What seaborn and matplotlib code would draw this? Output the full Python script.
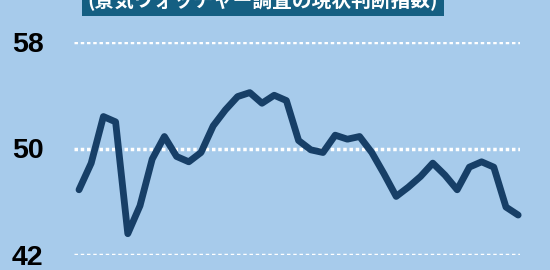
import matplotlib
matplotlib.use("Agg")
import matplotlib.pyplot as plt
import seaborn as sns
import pandas as pd

# Data
index_values = [46.9, 48.9, 52.4, 52.0, 43.6, 45.7, 49.2, 50.9, 49.4, 49.0,
                49.7, 51.7, 52.9, 53.9, 54.2, 53.4, 54.0, 53.6, 50.6, 49.9,
                49.7, 51.0, 50.7, 50.9, 49.7, 48.1, 46.4, 47.1, 47.9, 48.9,
                48.0, 46.9, 48.6, 49.0, 48.6, 45.6, 45.0]
periods = list(range(len(index_values)))
y_ticks = [42, 50, 58]
title_text = "(景気ウォッチャー調査の現状判断指数)"

BG = "#a7cbeb"
LINE = "#173f67"
BOX = "#155f82"

sns.set_style("white")
plt.rcParams['font.family'] = ['Liberation Sans', 'DejaVu Sans']

df = pd.DataFrame({"period": periods, "value": index_values})

fig = plt.figure(figsize=(5.5, 2.7), dpi=100, facecolor=BG)
W, H = 550, 270
ax = fig.add_axes([74 / W, 1 - 255 / H, (520 - 74) / W, (255 - 42) / H])
ax.set_facecolor(BG)

sns.lineplot(data=df, x="period", y="value", ax=ax, color=LINE,
             linewidth=4.9, solid_capstyle="round", solid_joinstyle="round",
             clip_on=False, zorder=3)

ax.set_xlim(-0.41, 36.15)
ax.set_ylim(42, 58)
ax.set_yticks(y_ticks)
ax.set_yticklabels([str(t) for t in y_ticks], fontsize=20.5, fontweight="bold",
                   color="black")
ax.tick_params(axis="y", length=0, pad=22)
ax.set_xticks([])
ax.set_xlabel("")
ax.set_ylabel("")
for s in ax.spines.values():
    s.set_visible(False)

ax.grid(axis="y", color="white", linewidth=2.5, linestyle=(0, (1.0, 0.8)),
        zorder=1)
ax.set_axisbelow(True)

fig.text(263 / W, 1 - 0 / H, title_text, ha="center", va="center",
         fontsize=14.2, fontweight="bold", color="white",
         family=['Noto Sans CJK JP', 'DejaVu Sans'],
         bbox=dict(boxstyle="square,pad=0.3", facecolor=BOX, edgecolor="none"))

fig.savefig("out.png", dpi=100, facecolor=BG)
